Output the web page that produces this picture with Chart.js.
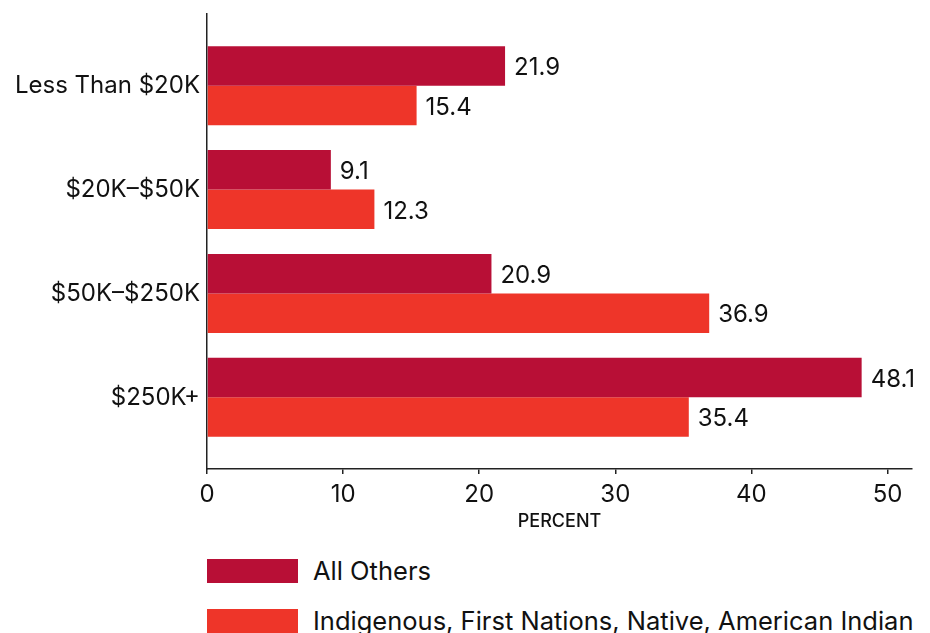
<!DOCTYPE html>
<html>
<head>
<meta charset="utf-8">
<script src="https://cdn.jsdelivr.net/npm/chart.js@4"></script>
<style>
	body { margin: 0; background: #fff; font-family: Inter, "Noto Sans", sans-serif; color: #111; }
	#wrap { position: relative; width: 930px; height: 633px; }
	#legend { position: absolute; left: 207px; top: 559px; }
	#legend .item { display: flex; align-items: center; height: 24px; margin-bottom: 26px; }
	#legend .box { width: 91px; height: 24px; margin-right: 15px; }
	#legend .txt { font-size: 25.5px; line-height: 24px; white-space: nowrap; }
</style>
</head>
<body>
<div id="wrap">
	<canvas id="chart" width="930" height="545"></canvas>
	<div id="legend"></div>
</div>
<script>
(function () {
	/*global Chart */

	// Data
	var categories = ['Less Than $20K', '$20K\u2013$50K', '$50K\u2013$250K', '$250K+'];
	var allOthers = [21.9, 9.1, 20.9, 48.1];
	var indigenous = [15.4, 12.3, 36.9, 35.4];
	var seriesNames = ['All Others', 'Indigenous, First Nations, Native, American Indian'];
	var seriesColors = ['#b80f36', '#ee3529'];
	var xTicks = [0, 10, 20, 30, 40, 50];

	var font = 'Inter, "Noto Sans", sans-serif';
	var ink = '#111';

	function toPoints(values) {
		return values.map(function (v, i) {
			return { x: v, y: i };
		});
	}

	// Write the value at the end of each bar
	var valueLabels = {
		id: 'valueLabels',
		afterDatasetsDraw: function (chart) {
			var ctx = chart.ctx;
			ctx.save();
			ctx.font = '24px ' + font;
			ctx.fillStyle = ink;
			ctx.textAlign = 'left';
			ctx.textBaseline = 'middle';
			chart.data.datasets.forEach(function (ds, d) {
				var meta = chart.getDatasetMeta(d);
				meta.data.forEach(function (bar, i) {
					ctx.fillText(ds.data[i].x.toFixed(1), bar.x + 9, bar.y + 2);
				});
			});
			ctx.restore();
		},
	};

	var chart = new Chart(document.getElementById('chart'), {
		type: 'bar',
		data: {
			datasets: [
				{
					label: seriesNames[0],
					data: toPoints(allOthers),
					backgroundColor: seriesColors[0],
				},
				{
					label: seriesNames[1],
					data: toPoints(indigenous),
					backgroundColor: seriesColors[1],
				},
			],
		},
		options: {
			responsive: false,
			animation: false,
			indexAxis: 'y',
			categoryPercentage: 0.76,
			barPercentage: 1,
			layout: {
				padding: { top: 14, right: 18, left: 0, bottom: 0 },
			},
			plugins: {
				legend: { display: false },
				tooltip: { enabled: false },
			},
			scales: {
				x: {
					type: 'linear',
					min: 0,
					max: 51.8,
					afterBuildTicks: function (scale) {
						scale.ticks = xTicks.map(function (v) {
							return { value: v };
						});
						scale.min = 0;
						scale.max = 51.8;
					},
					afterFit: function (scale) {
						scale.height = 545 - 469;
					},
					ticks: {
						color: ink,
						font: { family: font, size: 24 },
						padding: 6,
						maxRotation: 0,
					},
					grid: {
						drawOnChartArea: false,
						drawTicks: true,
						tickLength: 5,
						color: '#222',
						lineWidth: 1.5,
					},
					border: { display: true, color: '#222', width: 1.5 },
					title: {
						display: true,
						text: 'PERCENT',
						color: ink,
						font: { family: font, size: 18, weight: '500' },
						padding: { top: 0, bottom: 13 },
					},
				},
				y: {
					type: 'linear',
					reverse: true,
					offset: false,
					bounds: 'data',
					min: -0.69,
					max: 3.69,
					afterBuildTicks: function (scale) {
						scale.ticks = categories.map(function (c, i) {
							return { value: i };
						});
						scale.min = -0.69;
						scale.max = 3.69;
					},
					afterFit: function (scale) {
						scale.width = 207;
						scale.paddingTop = 0;
						scale.paddingBottom = 0;
					},
					ticks: {
						color: ink,
						font: { family: font, size: 24 },
						padding: 7,
						callback: function (v) {
							return categories[v];
						},
					},
					grid: { display: false, drawTicks: false, offset: false },
					border: { display: true, color: '#222', width: 1.5 },
				},
			},
		},
		plugins: [valueLabels],
	});

	// Build the legend below the chart from the datasets
	var legend = document.getElementById('legend');
	chart.data.datasets.forEach(function (ds) {
		var item = document.createElement('div');
		item.className = 'item';
		var box = document.createElement('span');
		box.className = 'box';
		box.style.background = ds.backgroundColor;
		var txt = document.createElement('span');
		txt.className = 'txt';
		txt.textContent = ds.label;
		item.appendChild(box);
		item.appendChild(txt);
		legend.appendChild(item);
	});
})();
</script>
</body>
</html>
